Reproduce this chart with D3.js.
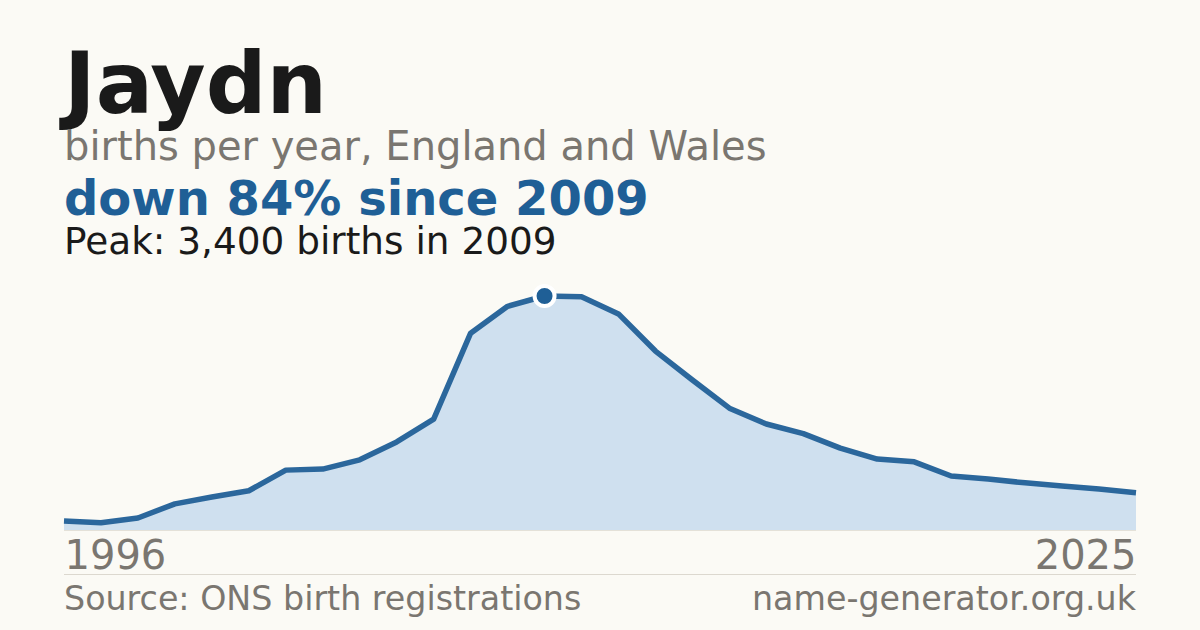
<!DOCTYPE html>
<html>
<head>
<meta charset="utf-8">
<script src="https://cdn.jsdelivr.net/npm/d3@7"></script>
<style>
  html, body { margin: 0; padding: 0; background: #fbfaf5; }
  svg { display: block; font-family: "DejaVu Sans", sans-serif; }
</style>
</head>
<body>
<svg width="1200" height="630"></svg>
<script>
let years = d3.range(1996, 2026);
let births = [
  130, 105, 175, 380, 480, 570, 870, 885, 1020, 1280,
  1610, 2860, 3250, 3400, 3390, 3140, 2600, 2180, 1770, 1540,
  1400, 1190, 1030, 990, 785, 740, 685, 640, 595, 540
];
let peakYear = 2009;
let titleText = "Jaydn";
let subtitleText = "births per year, England and Wales";
let changeText = "down 84% since 2009";
let peakText = "Peak: 3,400 births in 2009";
let sourceText = "Source: ONS birth registrations";
let siteText = "name-generator.org.uk";

let width = 1200;
let height = 630;
let plotLeft = 64;
let plotRight = 1136;
let plotTop = 296;
let plotBottom = 530;

let values = years.map((y, i) => ({ year: y, n: births[i] }));
let svg = d3.select("svg");

svg.append("rect")
  .attr("width", width)
  .attr("height", height)
  .attr("fill", "#fbfaf5");

let xScale = d3.scaleLinear()
  .domain([years[0], years[years.length - 1]])
  .range([plotLeft, plotRight]);
let yScale = d3.scaleLinear()
  .domain([0, d3.max(births)])
  .range([plotBottom, plotTop]);

let area = d3.area()
  .x((d) => xScale(d.year))
  .y0(plotBottom)
  .y1((d) => yScale(d.n));
let line = d3.line()
  .x((d) => xScale(d.year))
  .y((d) => yScale(d.n));

svg.append("path")
  .datum(values)
  .attr("d", area)
  .attr("fill", "#cfe0ef");

svg.append("line")
  .attr("x1", plotLeft)
  .attr("x2", plotRight)
  .attr("y1", plotBottom + 0.5)
  .attr("y2", plotBottom + 0.5)
  .attr("stroke", "#e4e1d8")
  .attr("stroke-width", 1);

svg.append("path")
  .datum(values)
  .attr("d", line)
  .attr("fill", "none")
  .attr("stroke", "#2b679c")
  .attr("stroke-width", 5.5)
  .attr("stroke-linejoin", "round");

let peak = values.find((d) => d.year === peakYear);
svg.append("circle")
  .attr("cx", xScale(peak.year))
  .attr("cy", yScale(peak.n))
  .attr("r", 10)
  .attr("fill", "#1f5f96")
  .attr("stroke", "#ffffff")
  .attr("stroke-width", 4);

// titles
svg.append("text")
  .attr("x", 64).attr("y", 113)
  .attr("font-size", 85).attr("font-weight", "bold")
  .attr("fill", "#1a1a1a")
  .text(titleText);
svg.append("text")
  .attr("x", 64).attr("y", 160)
  .attr("font-size", 40)
  .attr("fill", "#7a7670")
  .text(subtitleText);
svg.append("text")
  .attr("x", 64).attr("y", 215)
  .attr("font-size", 48).attr("font-weight", "bold")
  .attr("fill", "#1f5f96")
  .text(changeText);
svg.append("text")
  .attr("x", 64).attr("y", 254)
  .attr("font-size", 37.4)
  .attr("fill", "#1a1a1a")
  .text(peakText);

// axis end labels
let xAxis = d3.axisBottom(xScale)
  .tickValues([years[0], years[years.length - 1]])
  .tickSize(0)
  .tickFormat(d3.format("d"));
let gx = svg.append("g")
  .attr("transform", `translate(0, ${plotBottom})`)
  .call(xAxis);
gx.select(".domain").remove();
gx.selectAll("text")
  .attr("y", 39)
  .attr("dy", 0)
  .attr("font-size", 40)
  .attr("font-family", "DejaVu Sans, sans-serif")
  .attr("fill", "#7a7670")
  .attr("text-anchor", (d, i) => (i === 0 ? "start" : "end"));

svg.append("line")
  .attr("x1", plotLeft)
  .attr("x2", plotRight)
  .attr("y1", 574.5)
  .attr("y2", 574.5)
  .attr("stroke", "#dcd8cf")
  .attr("stroke-width", 1);

svg.append("text")
  .attr("x", 64).attr("y", 610)
  .attr("font-size", 33.3)
  .attr("fill", "#7a7670")
  .text(sourceText);
svg.append("text")
  .attr("x", 1136).attr("y", 610)
  .attr("font-size", 33.3)
  .attr("text-anchor", "end")
  .attr("fill", "#7a7670")
  .text(siteText);
</script>
</body>
</html>
